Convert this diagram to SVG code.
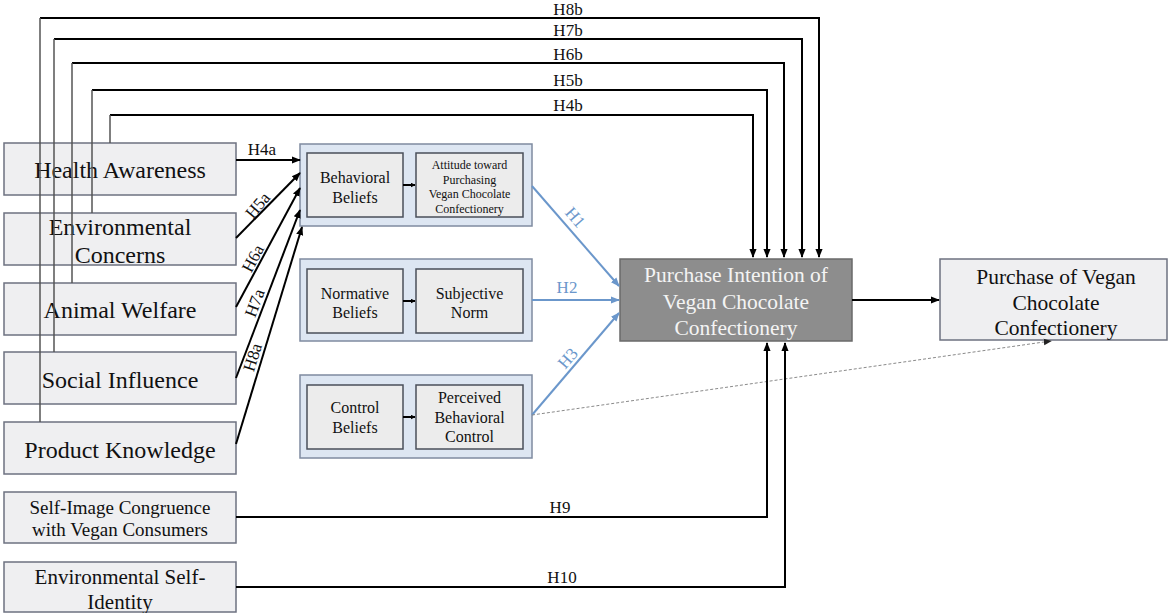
<svg xmlns="http://www.w3.org/2000/svg" width="1172" height="613" viewBox="0 0 1172 613">
  <defs>
    <marker id="ah" viewBox="0 0 10 10" refX="9" refY="5" markerWidth="5" markerHeight="5" orient="auto" markerUnits="userSpaceOnUse">
      <path d="M0,0 L10,5 L0,10 z" fill="#000"/>
    </marker>
    <marker id="ah-big" viewBox="0 0 10 10" refX="9" refY="5" markerWidth="9" markerHeight="9" orient="auto" markerUnits="userSpaceOnUse">
      <path d="M0,1 L10,5 L0,9 z" fill="#000"/>
    </marker>
    <marker id="ah-blue" viewBox="0 0 10 10" refX="9" refY="5" markerWidth="9" markerHeight="9" orient="auto" markerUnits="userSpaceOnUse">
      <path d="M0,1 L10,5 L0,9 z" fill="#6b97cb"/>
    </marker>
    <marker id="ah-dot" viewBox="0 0 10 10" refX="9" refY="5" markerWidth="8" markerHeight="8" orient="auto" markerUnits="userSpaceOnUse">
      <path d="M0,1 L10,5 L0,9 z" fill="#222"/>
    </marker>
  </defs>
  <style>
    text { font-family: "Liberation Serif", "Times New Roman", serif; fill: #111; }
    .box { fill: #efeff1; stroke: #6d7280; stroke-width: 1.5; }
    .grp { fill: #dde6f2; stroke: #7f8ba0; stroke-width: 1.5; }
    .inner { fill: #ececec; stroke: #4a4f5a; stroke-width: 1.5; }
    .pi { fill: #8d8d8d; stroke: #6a6a6a; stroke-width: 1.5; }
    .big { font-size: 24px; text-anchor: middle; }
    .mid { font-size: 16px; text-anchor: middle; }
    .small { font-size: 12px; text-anchor: middle; }
    .lbl { font-size: 17px; text-anchor: middle; }
    .blbl { font-size: 17px; text-anchor: middle; fill: #6b97cb; }
    .wire { fill: none; stroke: #000; stroke-width: 2; }
    .riser { fill: none; stroke: #555; stroke-width: 1.5; }
    .blue { fill: none; stroke: #6b97cb; stroke-width: 2; }
  </style>

  <!-- left-hand constructs -->
  <g id="health-awareness">
    <rect class="box" x="4" y="143" width="232" height="52"/>
    <text class="big" x="120" y="178">Health Awareness</text>
  </g>
  <g id="environmental-concerns">
    <rect class="box" x="4" y="213" width="232" height="52"/>
    <text class="big" x="120" y="235">Environmental</text>
    <text class="big" x="120" y="263">Concerns</text>
  </g>
  <g id="animal-welfare">
    <rect class="box" x="4" y="283" width="232" height="52"/>
    <text class="big" x="120" y="318">Animal Welfare</text>
  </g>
  <g id="social-influence">
    <rect class="box" x="4" y="352" width="232" height="52"/>
    <text class="big" x="120" y="388">Social Influence</text>
  </g>
  <g id="product-knowledge">
    <rect class="box" x="4" y="422" width="232" height="52"/>
    <text class="big" x="120" y="458">Product Knowledge</text>
  </g>
  <g id="self-image-congruence">
    <rect class="box" x="4" y="492" width="232" height="51"/>
    <text class="big" x="120" y="514" style="font-size:19px">Self-Image Congruence</text>
    <text class="big" x="120" y="536" style="font-size:19px">with Vegan Consumers</text>
  </g>
  <g id="environmental-self-identity">
    <rect class="box" x="4" y="562" width="232" height="50"/>
    <text class="big" x="120" y="584" style="font-size:21px">Environmental Self-</text>
    <text class="big" x="120" y="609" style="font-size:21px">Identity</text>
  </g>

  <!-- TPB blocks -->
  <g id="attitude-block">
    <rect class="grp" x="300" y="144" width="232" height="82"/>
    <rect class="inner" x="307" y="153" width="96" height="64"/>
    <text class="mid" x="355" y="183">Behavioral</text>
    <text class="mid" x="355" y="203">Beliefs</text>
    <rect class="inner" x="416" y="153" width="107" height="64"/>
    <text class="small" x="469.5" y="169">Attitude toward</text>
    <text class="small" x="469.5" y="184">Purchasing</text>
    <text class="small" x="469.5" y="198">Vegan Chocolate</text>
    <text class="small" x="469.5" y="213">Confectionery</text>
    <line class="wire" x1="403" y1="185" x2="415" y2="185" marker-end="url(#ah)"/>
  </g>
  <g id="norm-block">
    <rect class="grp" x="300" y="259" width="232" height="82"/>
    <rect class="inner" x="307" y="269" width="96" height="64"/>
    <text class="mid" x="355" y="299">Normative</text>
    <text class="mid" x="355" y="318">Beliefs</text>
    <rect class="inner" x="416" y="269" width="107" height="64"/>
    <text class="mid" x="469.5" y="299">Subjective</text>
    <text class="mid" x="469.5" y="318">Norm</text>
    <line class="wire" x1="403" y1="301" x2="415" y2="301" marker-end="url(#ah)"/>
  </g>
  <g id="control-block">
    <rect class="grp" x="300" y="375" width="232" height="83"/>
    <rect class="inner" x="307" y="385" width="96" height="64"/>
    <text class="mid" x="355" y="413">Control</text>
    <text class="mid" x="355" y="433">Beliefs</text>
    <rect class="inner" x="416" y="385" width="107" height="64"/>
    <text class="mid" x="469.5" y="403">Perceived</text>
    <text class="mid" x="469.5" y="423">Behavioral</text>
    <text class="mid" x="469.5" y="442">Control</text>
    <line class="wire" x1="403" y1="417" x2="415" y2="417" marker-end="url(#ah)"/>
  </g>

  <!-- outcomes -->
  <g id="purchase-intention">
    <rect class="pi" x="620" y="259" width="232" height="82"/>
    <text class="big" x="736" y="282" style="font-size:21.5px;fill:#f4f4f4">Purchase Intention of</text>
    <text class="big" x="736" y="309" style="font-size:21.5px;fill:#f4f4f4">Vegan Chocolate</text>
    <text class="big" x="736" y="335" style="font-size:21.5px;fill:#f4f4f4">Confectionery</text>
  </g>
  <g id="purchase-behaviour">
    <rect class="box" x="940" y="259" width="227" height="81"/>
    <text class="big" x="1056" y="284" style="font-size:21.5px">Purchase of Vegan</text>
    <text class="big" x="1056" y="310" style="font-size:21.5px">Chocolate</text>
    <text class="big" x="1056" y="335" style="font-size:21.5px">Confectionery</text>
  </g>

  <!-- connectors -->
  <g id="connectors">
    <!-- direct paths from the antecedents to purchase intention -->
    <path class="wire" d="M40,18 H819 V257" marker-end="url(#ah-big)"/>
    <path class="wire" d="M54,39 H802 V257" marker-end="url(#ah-big)"/>
    <path class="wire" d="M72,63 H784 V257" marker-end="url(#ah-big)"/>
    <path class="wire" d="M92,90 H767 V257" marker-end="url(#ah-big)"/>
    <path class="wire" d="M110,115 H753 V257" marker-end="url(#ah-big)"/>
    <line class="riser" x1="40" y1="18" x2="40" y2="422"/>
    <line class="riser" x1="54" y1="39" x2="54" y2="352"/>
    <line class="riser" x1="72" y1="63" x2="72" y2="283"/>
    <line class="riser" x1="92" y1="90" x2="92" y2="213"/>
    <line class="riser" x1="110" y1="115" x2="110" y2="143"/>
    <text class="lbl" x="568" y="15">H8b</text>
    <text class="lbl" x="568" y="36">H7b</text>
    <text class="lbl" x="568" y="60">H6b</text>
    <text class="lbl" x="568" y="86">H5b</text>
    <text class="lbl" x="568" y="111">H4b</text>

    <!-- antecedents to behavioural beliefs -->
    <line class="wire" x1="236" y1="160" x2="300" y2="160" marker-end="url(#ah-big)"/>
    <line class="wire" x1="236" y1="238" x2="300" y2="173" marker-end="url(#ah-big)"/>
    <line class="wire" x1="236" y1="307" x2="300" y2="188" marker-end="url(#ah-big)"/>
    <line class="wire" x1="236" y1="378" x2="300" y2="210" marker-end="url(#ah-big)"/>
    <line class="wire" x1="236" y1="444" x2="302" y2="227" marker-end="url(#ah-big)"/>
    <text class="lbl" x="262" y="155">H4a</text>
    <text class="lbl" transform="translate(262,209) rotate(-50)">H5a</text>
    <text class="lbl" transform="translate(258,261) rotate(-62)">H6a</text>
    <text class="lbl" transform="translate(260,305) rotate(-69)">H7a</text>
    <text class="lbl" transform="translate(258,359) rotate(-73)">H8a</text>

    <!-- TPB constructs to purchase intention -->
    <line class="blue" x1="532" y1="186" x2="619" y2="286" marker-end="url(#ah-blue)"/>
    <line class="blue" x1="532" y1="300" x2="619" y2="300" marker-end="url(#ah-blue)"/>
    <line class="blue" x1="532" y1="415" x2="619" y2="313" marker-end="url(#ah-blue)"/>
    <text class="blbl" transform="translate(571,221) rotate(49)">H1</text>
    <text class="blbl" x="567" y="293">H2</text>
    <text class="blbl" transform="translate(572,362) rotate(-49)">H3</text>

    <!-- perceived control to actual purchase -->
    <line x1="532" y1="415" x2="1051" y2="341" stroke="#8a8a8a" stroke-width="1" stroke-dasharray="3,2" marker-end="url(#ah-dot)"/>

    <!-- intention to purchase -->
    <line class="wire" x1="852" y1="300" x2="939" y2="300" marker-end="url(#ah-big)"/>

    <!-- self-image and self-identity -->
    <path class="wire" d="M236,517 H767 V343" marker-end="url(#ah-big)"/>
    <path class="wire" d="M236,587 H785 V343" marker-end="url(#ah-big)"/>
    <text class="lbl" x="560" y="513">H9</text>
    <text class="lbl" x="562" y="583">H10</text>
  </g>
</svg>
